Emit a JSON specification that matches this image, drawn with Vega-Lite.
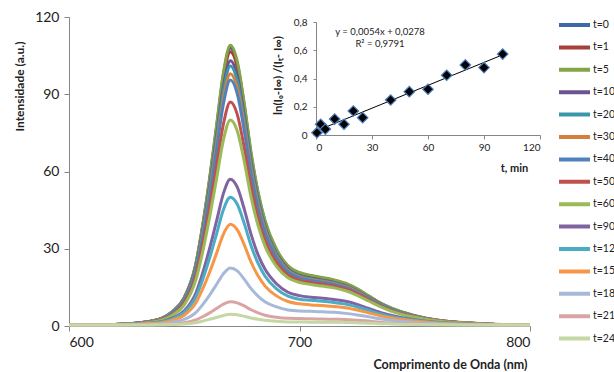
{
  "$schema": "https://vega.github.io/schema/vega-lite/v6.json",
  "width": 461,
  "height": 309,
  "autosize": "none",
  "padding": {"left": 69, "top": 17, "right": 84, "bottom": 46},
  "background": "white",
  "config": {
    "view": {"stroke": null},
    "font": "Lato",
    "axis": {"grid": false, "domainColor": "#868686", "tickColor": "#868686", "labelColor": "#222222", "titleColor": "#222222"}
  },
  "datasets": {
    "spec": [
{"t":"t=0","w":600,"v":0.4},{"t":"t=0","w":620,"v":0.6},{"t":"t=0","w":630,"v":1.2},{"t":"t=0","w":640,"v":2.9},{"t":"t=0","w":645,"v":5.7},{"t":"t=0","w":650,"v":11.0},{"t":"t=0","w":655,"v":23.9},{"t":"t=0","w":658,"v":38.9},{"t":"t=0","w":661,"v":56.9},{"t":"t=0","w":664,"v":77.2},{"t":"t=0","w":667,"v":97.6},{"t":"t=0","w":670,"v":108.0},{"t":"t=0","w":673,"v":101.9},{"t":"t=0","w":676,"v":85.9},{"t":"t=0","w":679,"v":66.7},{"t":"t=0","w":682,"v":51.7},{"t":"t=0","w":685,"v":40.7},{"t":"t=0","w":690,"v":29.6},{"t":"t=0","w":695,"v":23.2},{"t":"t=0","w":700,"v":20.5},{"t":"t=0","w":705,"v":19.4},{"t":"t=0","w":710,"v":18.6},{"t":"t=0","w":715,"v":17.7},{"t":"t=0","w":720,"v":16.4},{"t":"t=0","w":725,"v":14.3},{"t":"t=0","w":730,"v":11.6},{"t":"t=0","w":735,"v":8.9},{"t":"t=0","w":740,"v":6.8},{"t":"t=0","w":750,"v":4.0},{"t":"t=0","w":760,"v":2.2},{"t":"t=0","w":780,"v":0.8},{"t":"t=0","w":800,"v":0.4},
{"t":"t=1","w":600,"v":0.4},{"t":"t=1","w":620,"v":0.6},{"t":"t=1","w":630,"v":1.2},{"t":"t=1","w":640,"v":2.9},{"t":"t=1","w":645,"v":5.6},{"t":"t=1","w":650,"v":10.8},{"t":"t=1","w":655,"v":23.6},{"t":"t=1","w":658,"v":38.3},{"t":"t=1","w":661,"v":56.1},{"t":"t=1","w":664,"v":76.1},{"t":"t=1","w":667,"v":96.2},{"t":"t=1","w":670,"v":106.5},{"t":"t=1","w":673,"v":100.5},{"t":"t=1","w":676,"v":84.7},{"t":"t=1","w":679,"v":65.8},{"t":"t=1","w":682,"v":50.9},{"t":"t=1","w":685,"v":40.1},{"t":"t=1","w":690,"v":29.1},{"t":"t=1","w":695,"v":22.8},{"t":"t=1","w":700,"v":20.2},{"t":"t=1","w":705,"v":19.1},{"t":"t=1","w":710,"v":18.3},{"t":"t=1","w":715,"v":17.4},{"t":"t=1","w":720,"v":16.2},{"t":"t=1","w":725,"v":14.1},{"t":"t=1","w":730,"v":11.4},{"t":"t=1","w":735,"v":8.8},{"t":"t=1","w":740,"v":6.7},{"t":"t=1","w":750,"v":3.9},{"t":"t=1","w":760,"v":2.2},{"t":"t=1","w":780,"v":0.8},{"t":"t=1","w":800,"v":0.4},
{"t":"t=5","w":600,"v":0.4},{"t":"t=5","w":620,"v":0.6},{"t":"t=5","w":630,"v":1.2},{"t":"t=5","w":640,"v":3.0},{"t":"t=5","w":645,"v":5.7},{"t":"t=5","w":650,"v":11.0},{"t":"t=5","w":655,"v":24.1},{"t":"t=5","w":658,"v":39.2},{"t":"t=5","w":661,"v":57.4},{"t":"t=5","w":664,"v":77.8},{"t":"t=5","w":667,"v":98.4},{"t":"t=5","w":670,"v":109.0},{"t":"t=5","w":673,"v":102.8},{"t":"t=5","w":676,"v":86.6},{"t":"t=5","w":679,"v":67.4},{"t":"t=5","w":682,"v":52.1},{"t":"t=5","w":685,"v":41.1},{"t":"t=5","w":690,"v":29.8},{"t":"t=5","w":695,"v":23.4},{"t":"t=5","w":700,"v":20.8},{"t":"t=5","w":705,"v":19.6},{"t":"t=5","w":710,"v":18.8},{"t":"t=5","w":715,"v":17.9},{"t":"t=5","w":720,"v":16.6},{"t":"t=5","w":725,"v":14.4},{"t":"t=5","w":730,"v":11.7},{"t":"t=5","w":735,"v":9.0},{"t":"t=5","w":740,"v":6.9},{"t":"t=5","w":750,"v":4.0},{"t":"t=5","w":760,"v":2.2},{"t":"t=5","w":780,"v":0.9},{"t":"t=5","w":800,"v":0.4},
{"t":"t=10","w":600,"v":0.4},{"t":"t=10","w":620,"v":0.6},{"t":"t=10","w":630,"v":1.2},{"t":"t=10","w":640,"v":2.8},{"t":"t=10","w":645,"v":5.4},{"t":"t=10","w":650,"v":10.5},{"t":"t=10","w":655,"v":22.8},{"t":"t=10","w":658,"v":37.1},{"t":"t=10","w":661,"v":54.3},{"t":"t=10","w":664,"v":73.6},{"t":"t=10","w":667,"v":93.1},{"t":"t=10","w":670,"v":103.0},{"t":"t=10","w":673,"v":97.3},{"t":"t=10","w":676,"v":81.9},{"t":"t=10","w":679,"v":63.7},{"t":"t=10","w":682,"v":49.3},{"t":"t=10","w":685,"v":38.8},{"t":"t=10","w":690,"v":28.2},{"t":"t=10","w":695,"v":22.2},{"t":"t=10","w":700,"v":19.6},{"t":"t=10","w":705,"v":18.6},{"t":"t=10","w":710,"v":17.8},{"t":"t=10","w":715,"v":16.9},{"t":"t=10","w":720,"v":15.7},{"t":"t=10","w":725,"v":13.7},{"t":"t=10","w":730,"v":11.1},{"t":"t=10","w":735,"v":8.6},{"t":"t=10","w":740,"v":6.5},{"t":"t=10","w":750,"v":3.8},{"t":"t=10","w":760,"v":2.1},{"t":"t=10","w":780,"v":0.8},{"t":"t=10","w":800,"v":0.4},
{"t":"t=20","w":600,"v":0.4},{"t":"t=20","w":620,"v":0.6},{"t":"t=20","w":630,"v":1.2},{"t":"t=20","w":640,"v":2.8},{"t":"t=20","w":645,"v":5.3},{"t":"t=20","w":650,"v":10.3},{"t":"t=20","w":655,"v":22.4},{"t":"t=20","w":658,"v":36.4},{"t":"t=20","w":661,"v":53.2},{"t":"t=20","w":664,"v":72.1},{"t":"t=20","w":667,"v":91.2},{"t":"t=20","w":670,"v":101.0},{"t":"t=20","w":673,"v":95.3},{"t":"t=20","w":676,"v":80.3},{"t":"t=20","w":679,"v":62.5},{"t":"t=20","w":682,"v":48.4},{"t":"t=20","w":685,"v":38.2},{"t":"t=20","w":690,"v":27.8},{"t":"t=20","w":695,"v":21.8},{"t":"t=20","w":700,"v":19.4},{"t":"t=20","w":705,"v":18.3},{"t":"t=20","w":710,"v":17.6},{"t":"t=20","w":715,"v":16.7},{"t":"t=20","w":720,"v":15.5},{"t":"t=20","w":725,"v":13.5},{"t":"t=20","w":730,"v":11.0},{"t":"t=20","w":735,"v":8.5},{"t":"t=20","w":740,"v":6.5},{"t":"t=20","w":750,"v":3.8},{"t":"t=20","w":760,"v":2.1},{"t":"t=20","w":780,"v":0.8},{"t":"t=20","w":800,"v":0.4},
{"t":"t=30","w":600,"v":0.4},{"t":"t=30","w":620,"v":0.6},{"t":"t=30","w":630,"v":1.1},{"t":"t=30","w":640,"v":2.7},{"t":"t=30","w":645,"v":5.2},{"t":"t=30","w":650,"v":10.0},{"t":"t=30","w":655,"v":21.7},{"t":"t=30","w":658,"v":35.3},{"t":"t=30","w":661,"v":51.6},{"t":"t=30","w":664,"v":70.0},{"t":"t=30","w":667,"v":88.5},{"t":"t=30","w":670,"v":98.0},{"t":"t=30","w":673,"v":92.5},{"t":"t=30","w":676,"v":78.0},{"t":"t=30","w":679,"v":60.7},{"t":"t=30","w":682,"v":47.1},{"t":"t=30","w":685,"v":37.1},{"t":"t=30","w":690,"v":27.1},{"t":"t=30","w":695,"v":21.4},{"t":"t=30","w":700,"v":19.0},{"t":"t=30","w":705,"v":18.0},{"t":"t=30","w":710,"v":17.3},{"t":"t=30","w":715,"v":16.4},{"t":"t=30","w":720,"v":15.3},{"t":"t=30","w":725,"v":13.3},{"t":"t=30","w":730,"v":10.8},{"t":"t=30","w":735,"v":8.3},{"t":"t=30","w":740,"v":6.3},{"t":"t=30","w":750,"v":3.7},{"t":"t=30","w":760,"v":2.1},{"t":"t=30","w":780,"v":0.8},{"t":"t=30","w":800,"v":0.4},
{"t":"t=40","w":600,"v":0.4},{"t":"t=40","w":620,"v":0.6},{"t":"t=40","w":630,"v":1.1},{"t":"t=40","w":640,"v":2.6},{"t":"t=40","w":645,"v":5.1},{"t":"t=40","w":650,"v":9.7},{"t":"t=40","w":655,"v":21.2},{"t":"t=40","w":658,"v":34.4},{"t":"t=40","w":661,"v":50.3},{"t":"t=40","w":664,"v":68.2},{"t":"t=40","w":667,"v":86.3},{"t":"t=40","w":670,"v":95.5},{"t":"t=40","w":673,"v":90.2},{"t":"t=40","w":676,"v":76.0},{"t":"t=40","w":679,"v":59.2},{"t":"t=40","w":682,"v":45.9},{"t":"t=40","w":685,"v":36.3},{"t":"t=40","w":690,"v":26.5},{"t":"t=40","w":695,"v":21.0},{"t":"t=40","w":700,"v":18.7},{"t":"t=40","w":705,"v":17.7},{"t":"t=40","w":710,"v":17.0},{"t":"t=40","w":715,"v":16.1},{"t":"t=40","w":720,"v":15.0},{"t":"t=40","w":725,"v":13.0},{"t":"t=40","w":730,"v":10.6},{"t":"t=40","w":735,"v":8.2},{"t":"t=40","w":740,"v":6.2},{"t":"t=40","w":750,"v":3.6},{"t":"t=40","w":760,"v":2.0},{"t":"t=40","w":780,"v":0.8},{"t":"t=40","w":800,"v":0.4},
{"t":"t=50","w":600,"v":0.4},{"t":"t=50","w":620,"v":0.6},{"t":"t=50","w":630,"v":1.1},{"t":"t=50","w":640,"v":2.4},{"t":"t=50","w":645,"v":4.6},{"t":"t=50","w":650,"v":8.9},{"t":"t=50","w":655,"v":19.3},{"t":"t=50","w":658,"v":31.3},{"t":"t=50","w":661,"v":45.8},{"t":"t=50","w":664,"v":62.1},{"t":"t=50","w":667,"v":78.5},{"t":"t=50","w":670,"v":87.0},{"t":"t=50","w":673,"v":82.2},{"t":"t=50","w":676,"v":69.4},{"t":"t=50","w":679,"v":54.2},{"t":"t=50","w":682,"v":42.2},{"t":"t=50","w":685,"v":33.5},{"t":"t=50","w":690,"v":24.7},{"t":"t=50","w":695,"v":19.8},{"t":"t=50","w":700,"v":17.7},{"t":"t=50","w":705,"v":16.9},{"t":"t=50","w":710,"v":16.2},{"t":"t=50","w":715,"v":15.4},{"t":"t=50","w":720,"v":14.4},{"t":"t=50","w":725,"v":12.5},{"t":"t=50","w":730,"v":10.2},{"t":"t=50","w":735,"v":7.8},{"t":"t=50","w":740,"v":6.0},{"t":"t=50","w":750,"v":3.5},{"t":"t=50","w":760,"v":2.0},{"t":"t=50","w":780,"v":0.8},{"t":"t=50","w":800,"v":0.4},
{"t":"t=60","w":600,"v":0.4},{"t":"t=60","w":620,"v":0.6},{"t":"t=60","w":630,"v":1.0},{"t":"t=60","w":640,"v":2.3},{"t":"t=60","w":645,"v":4.3},{"t":"t=60","w":650,"v":8.2},{"t":"t=60","w":655,"v":17.8},{"t":"t=60","w":658,"v":28.8},{"t":"t=60","w":661,"v":42.2},{"t":"t=60","w":664,"v":57.1},{"t":"t=60","w":667,"v":72.3},{"t":"t=60","w":670,"v":80.0},{"t":"t=60","w":673,"v":75.7},{"t":"t=60","w":676,"v":64.0},{"t":"t=60","w":679,"v":50.0},{"t":"t=60","w":682,"v":39.1},{"t":"t=60","w":685,"v":31.1},{"t":"t=60","w":690,"v":23.2},{"t":"t=60","w":695,"v":18.7},{"t":"t=60","w":700,"v":16.9},{"t":"t=60","w":705,"v":16.1},{"t":"t=60","w":710,"v":15.5},{"t":"t=60","w":715,"v":14.8},{"t":"t=60","w":720,"v":13.7},{"t":"t=60","w":725,"v":11.9},{"t":"t=60","w":730,"v":9.7},{"t":"t=60","w":735,"v":7.5},{"t":"t=60","w":740,"v":5.7},{"t":"t=60","w":750,"v":3.4},{"t":"t=60","w":760,"v":1.9},{"t":"t=60","w":780,"v":0.8},{"t":"t=60","w":800,"v":0.4},
{"t":"t=90","w":600,"v":0.4},{"t":"t=90","w":620,"v":0.5},{"t":"t=90","w":630,"v":0.8},{"t":"t=90","w":640,"v":1.7},{"t":"t=90","w":645,"v":3.2},{"t":"t=90","w":650,"v":5.9},{"t":"t=90","w":655,"v":12.7},{"t":"t=90","w":658,"v":20.6},{"t":"t=90","w":661,"v":30.1},{"t":"t=90","w":664,"v":40.7},{"t":"t=90","w":667,"v":51.5},{"t":"t=90","w":670,"v":57.0},{"t":"t=90","w":673,"v":53.9},{"t":"t=90","w":676,"v":45.5},{"t":"t=90","w":679,"v":35.6},{"t":"t=90","w":682,"v":27.7},{"t":"t=90","w":685,"v":22.1},{"t":"t=90","w":690,"v":16.4},{"t":"t=90","w":695,"v":13.1},{"t":"t=90","w":700,"v":11.8},{"t":"t=90","w":705,"v":11.2},{"t":"t=90","w":710,"v":10.8},{"t":"t=90","w":715,"v":10.3},{"t":"t=90","w":720,"v":9.6},{"t":"t=90","w":725,"v":8.4},{"t":"t=90","w":730,"v":6.8},{"t":"t=90","w":735,"v":5.3},{"t":"t=90","w":740,"v":4.1},{"t":"t=90","w":750,"v":2.4},{"t":"t=90","w":760,"v":1.4},{"t":"t=90","w":780,"v":0.7},{"t":"t=90","w":800,"v":0.4},
{"t":"t=120","w":600,"v":0.4},{"t":"t=120","w":620,"v":0.5},{"t":"t=120","w":630,"v":0.8},{"t":"t=120","w":640,"v":1.6},{"t":"t=120","w":645,"v":2.8},{"t":"t=120","w":650,"v":5.3},{"t":"t=120","w":655,"v":11.2},{"t":"t=120","w":658,"v":18.1},{"t":"t=120","w":661,"v":26.4},{"t":"t=120","w":664,"v":35.7},{"t":"t=120","w":667,"v":45.2},{"t":"t=120","w":670,"v":50.0},{"t":"t=120","w":673,"v":47.3},{"t":"t=120","w":676,"v":39.9},{"t":"t=120","w":679,"v":31.2},{"t":"t=120","w":682,"v":24.4},{"t":"t=120","w":685,"v":19.4},{"t":"t=120","w":690,"v":14.4},{"t":"t=120","w":695,"v":11.6},{"t":"t=120","w":700,"v":10.4},{"t":"t=120","w":705,"v":10.0},{"t":"t=120","w":710,"v":9.6},{"t":"t=120","w":715,"v":9.1},{"t":"t=120","w":720,"v":8.5},{"t":"t=120","w":725,"v":7.4},{"t":"t=120","w":730,"v":6.1},{"t":"t=120","w":735,"v":4.7},{"t":"t=120","w":740,"v":3.6},{"t":"t=120","w":750,"v":2.2},{"t":"t=120","w":760,"v":1.3},{"t":"t=120","w":780,"v":0.6},{"t":"t=120","w":800,"v":0.4},
{"t":"t=150","w":600,"v":0.4},{"t":"t=150","w":620,"v":0.5},{"t":"t=150","w":630,"v":0.7},{"t":"t=150","w":640,"v":1.3},{"t":"t=150","w":645,"v":2.3},{"t":"t=150","w":650,"v":4.2},{"t":"t=150","w":655,"v":8.9},{"t":"t=150","w":658,"v":14.4},{"t":"t=150","w":661,"v":20.9},{"t":"t=150","w":664,"v":28.2},{"t":"t=150","w":667,"v":35.7},{"t":"t=150","w":670,"v":39.5},{"t":"t=150","w":673,"v":37.3},{"t":"t=150","w":676,"v":31.6},{"t":"t=150","w":679,"v":24.8},{"t":"t=150","w":682,"v":19.5},{"t":"t=150","w":685,"v":15.6},{"t":"t=150","w":690,"v":11.7},{"t":"t=150","w":695,"v":9.5},{"t":"t=150","w":700,"v":8.6},{"t":"t=150","w":705,"v":8.2},{"t":"t=150","w":710,"v":8.0},{"t":"t=150","w":715,"v":7.6},{"t":"t=150","w":720,"v":7.1},{"t":"t=150","w":725,"v":6.2},{"t":"t=150","w":730,"v":5.1},{"t":"t=150","w":735,"v":4.0},{"t":"t=150","w":740,"v":3.1},{"t":"t=150","w":750,"v":1.9},{"t":"t=150","w":760,"v":1.1},{"t":"t=150","w":780,"v":0.6},{"t":"t=150","w":800,"v":0.4},
{"t":"t=180","w":600,"v":0.4},{"t":"t=180","w":620,"v":0.4},{"t":"t=180","w":630,"v":0.6},{"t":"t=180","w":640,"v":0.9},{"t":"t=180","w":645,"v":1.5},{"t":"t=180","w":650,"v":2.6},{"t":"t=180","w":655,"v":5.2},{"t":"t=180","w":658,"v":8.3},{"t":"t=180","w":661,"v":12.0},{"t":"t=180","w":664,"v":16.1},{"t":"t=180","w":667,"v":20.3},{"t":"t=180","w":670,"v":22.5},{"t":"t=180","w":673,"v":21.4},{"t":"t=180","w":676,"v":18.2},{"t":"t=180","w":679,"v":14.5},{"t":"t=180","w":682,"v":11.6},{"t":"t=180","w":685,"v":9.4},{"t":"t=180","w":690,"v":7.4},{"t":"t=180","w":695,"v":6.2},{"t":"t=180","w":700,"v":5.8},{"t":"t=180","w":705,"v":5.7},{"t":"t=180","w":710,"v":5.5},{"t":"t=180","w":715,"v":5.3},{"t":"t=180","w":720,"v":4.9},{"t":"t=180","w":725,"v":4.3},{"t":"t=180","w":730,"v":3.6},{"t":"t=180","w":735,"v":2.8},{"t":"t=180","w":740,"v":2.2},{"t":"t=180","w":750,"v":1.4},{"t":"t=180","w":760,"v":0.9},{"t":"t=180","w":780,"v":0.5},{"t":"t=180","w":800,"v":0.4},
{"t":"t=210","w":600,"v":0.4},{"t":"t=210","w":620,"v":0.4},{"t":"t=210","w":630,"v":0.5},{"t":"t=210","w":640,"v":0.6},{"t":"t=210","w":645,"v":0.8},{"t":"t=210","w":650,"v":1.3},{"t":"t=210","w":655,"v":2.4},{"t":"t=210","w":658,"v":3.6},{"t":"t=210","w":661,"v":5.1},{"t":"t=210","w":664,"v":6.8},{"t":"t=210","w":667,"v":8.5},{"t":"t=210","w":670,"v":9.4},{"t":"t=210","w":673,"v":9.0},{"t":"t=210","w":676,"v":7.8},{"t":"t=210","w":679,"v":6.3},{"t":"t=210","w":682,"v":5.1},{"t":"t=210","w":685,"v":4.2},{"t":"t=210","w":690,"v":3.4},{"t":"t=210","w":695,"v":3.0},{"t":"t=210","w":700,"v":2.9},{"t":"t=210","w":705,"v":2.8},{"t":"t=210","w":710,"v":2.7},{"t":"t=210","w":715,"v":2.6},{"t":"t=210","w":720,"v":2.5},{"t":"t=210","w":725,"v":2.2},{"t":"t=210","w":730,"v":1.9},{"t":"t=210","w":735,"v":1.5},{"t":"t=210","w":740,"v":1.2},{"t":"t=210","w":750,"v":0.9},{"t":"t=210","w":760,"v":0.6},{"t":"t=210","w":780,"v":0.5},{"t":"t=210","w":800,"v":0.4},
{"t":"t=240","w":600,"v":0.4},{"t":"t=240","w":620,"v":0.4},{"t":"t=240","w":630,"v":0.4},{"t":"t=240","w":640,"v":0.5},{"t":"t=240","w":645,"v":0.6},{"t":"t=240","w":650,"v":0.8},{"t":"t=240","w":655,"v":1.3},{"t":"t=240","w":658,"v":1.9},{"t":"t=240","w":661,"v":2.6},{"t":"t=240","w":664,"v":3.3},{"t":"t=240","w":667,"v":4.1},{"t":"t=240","w":670,"v":4.6},{"t":"t=240","w":673,"v":4.4},{"t":"t=240","w":676,"v":3.8},{"t":"t=240","w":679,"v":3.1},{"t":"t=240","w":682,"v":2.6},{"t":"t=240","w":685,"v":2.2},{"t":"t=240","w":690,"v":1.8},{"t":"t=240","w":695,"v":1.6},{"t":"t=240","w":700,"v":1.6},{"t":"t=240","w":705,"v":1.5},{"t":"t=240","w":710,"v":1.5},{"t":"t=240","w":715,"v":1.5},{"t":"t=240","w":720,"v":1.4},{"t":"t=240","w":725,"v":1.3},{"t":"t=240","w":730,"v":1.1},{"t":"t=240","w":735,"v":0.9},{"t":"t=240","w":740,"v":0.8},{"t":"t=240","w":750,"v":0.6},{"t":"t=240","w":760,"v":0.5},{"t":"t=240","w":780,"v":0.4},{"t":"t=240","w":800,"v":0.4}
    ],
    "kin": [
      {"tm": 0.5, "r": 0.016}, {"tm": 2.5, "r": 0.076}, {"tm": 5, "r": 0.042}, {"tm": 10, "r": 0.113},
      {"tm": 15, "r": 0.076}, {"tm": 20, "r": 0.17}, {"tm": 25, "r": 0.123}, {"tm": 40, "r": 0.248},
      {"tm": 50, "r": 0.307}, {"tm": 60, "r": 0.324}, {"tm": 70, "r": 0.423}, {"tm": 80, "r": 0.496},
      {"tm": 90, "r": 0.477}, {"tm": 100, "r": 0.573}
    ],
    "fit": [{"tm": 0, "r": 0.0278}, {"tm": 100, "r": 0.5678}],
    "notes": [{"label": "y = 0,0054x + 0,0278"}, {"label": "R² = 0,9791"}]
  },
  "layer": [
    {
      "data": {"name": "spec"},
      "mark": {"type": "line", "strokeWidth": 3, "interpolate": "monotone"},
      "encoding": {
        "x": {
          "field": "w", "type": "quantitative",
          "scale": {"domain": [600, 800], "nice": false},
          "axis": {
            "orient": "bottom", "values": [600, 700, 800], "tickSize": 5, "labelFontSize": 14, "labelPadding": 4,
            "title": "Comprimento de Onda (nm)", "titleFontSize": 12.5, "titleFontWeight": "bold",
            "titleX": 381, "titleY": 38, "titleAlign": "center", "titleBaseline": "middle"
          }
        },
        "y": {
          "field": "v", "type": "quantitative",
          "scale": {"domain": [0, 120], "nice": false},
          "axis": {
            "orient": "left", "values": [0, 30, 60, 90, 120], "tickSize": 5, "labelFontSize": 14, "labelPadding": 5,
            "title": "Intensidade (a.u.)", "titleFontSize": 12, "titleFontWeight": "bold",
            "titleX": -50, "titleY": 69, "titleAlign": "center", "titleBaseline": "middle", "titleAngle": -90
          }
        },
        "color": {
          "field": "t", "type": "nominal",
          "scale": {
            "domain": ["t=0", "t=1", "t=5", "t=10", "t=20", "t=30", "t=40", "t=50", "t=60", "t=90", "t=120", "t=150", "t=180", "t=210", "t=240"],
            "range": ["#3d6aa5", "#a6403d", "#86a345", "#6c5390", "#3a96ab", "#d6813b", "#4f81bd", "#c0504d", "#9bbb59", "#8064a2", "#4bacc6", "#f79646", "#a7b9d8", "#d9a5a4", "#c4d7a4"]
          },
          "legend": {
            "title": null, "orient": "none", "legendX": 488, "legendY": 2, "padding": 0,
            "symbolType": "stroke", "symbolSize": 961, "symbolStrokeWidth": 4,
            "clipHeight": 12, "rowPadding": 10.4, "labelOffset": 1,
            "labelFont": "Lato", "labelFontSize": 10.5, "labelColor": "#222222", "labelLimit": 40
          }
        }
      }
    },
    {
      "layer": [
        {
          "data": {"name": "fit"},
          "mark": {"type": "line", "color": "#000000", "strokeWidth": 1},
          "encoding": {
            "x": {
              "field": "tm", "type": "quantitative",
              "scale": {"domain": [0, 120], "range": [247, 471], "nice": false, "zero": false},
              "axis": {
                "orient": "bottom", "offset": -191, "values": [0, 30, 60, 90, 120], "tickSize": 4,
                "labelFontSize": 10, "labelPadding": 3,
                "title": "t, min", "titleFontSize": 11, "titleFontWeight": "bold",
                "titleX": 445, "titleY": 33, "titleAlign": "center", "titleBaseline": "middle"
              }
            },
            "y": {
              "field": "r", "type": "quantitative",
              "scale": {"domain": [0, 0.8], "range": [118, 5], "nice": false},
              "axis": {
                "orient": "left", "offset": -247, "values": [0, 0.2, 0.4, 0.6, 0.8], "tickSize": 3,
                "labelFontSize": 10, "labelPadding": 6,
                "labelExpr": "datum.value == 0 ? '0' : replace(format(datum.value, '.1f'), '.', ',')",
                "title": "ln(I₀-I∞) /(Iₜ- I∞)", "titleFontSize": 11.5, "titleFontWeight": "bold",
                "titleX": -38, "titleY": 58, "titleAlign": "center", "titleBaseline": "middle", "titleAngle": -90
              }
            }
          }
        },
        {
          "data": {"name": "kin"},
          "mark": {"type": "point", "shape": "diamond", "filled": true, "size": 110, "color": "#000000", "stroke": "#4a7ebb", "strokeWidth": 1.2, "opacity": 1},
          "encoding": {
            "x": {"field": "tm", "type": "quantitative"},
            "y": {"field": "r", "type": "quantitative"}
          }
        },
        {
          "data": {"name": "notes"},
          "transform": [{"filter": "datum.label == 'y = 0,0054x + 0,0278'"}],
          "mark": {"type": "text", "fontSize": 9.5, "color": "#222222", "align": "center", "baseline": "middle"},
          "encoding": {"x": {"datum": 34.3}, "y": {"datum": 0.73}, "text": {"field": "label"}}
        },
        {
          "data": {"name": "notes"},
          "transform": [{"filter": "datum.label == 'R² = 0,9791'"}],
          "mark": {"type": "text", "fontSize": 9.5, "color": "#222222", "align": "center", "baseline": "middle"},
          "encoding": {"x": {"datum": 34.3}, "y": {"datum": 0.645}, "text": {"field": "label"}}
        }
      ]
    }
  ],
  "resolve": {"scale": {"x": "independent", "y": "independent"}, "axis": {"x": "independent", "y": "independent"}}
}
